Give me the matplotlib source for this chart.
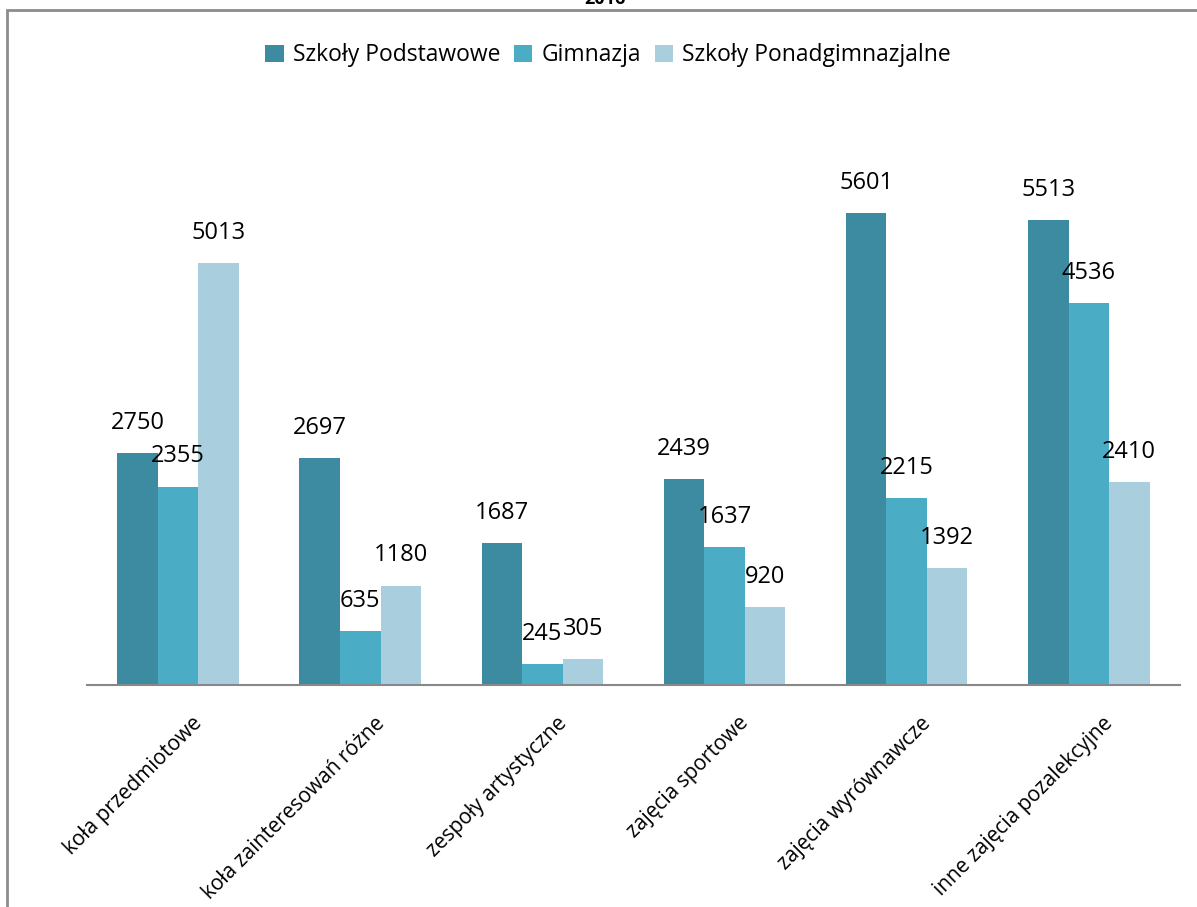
import matplotlib.pyplot as plt
import numpy as np
from matplotlib.patches import Rectangle
import matplotlib.transforms as mtransforms

plt.rcParams['font.family'] = ['Open Sans', 'DejaVu Sans']

categories = ['koła przedmiotowe', 'koła zainteresowań różne', 'zespoły artystyczne',
              'zajęcia sportowe', 'zajęcia wyrównawcze', 'inne zajęcia pozalekcyjne']
podstawowe = [2750, 2697, 1687, 2439, 5601, 5513]
gimnazja = [2355, 635, 245, 1637, 2215, 4536]
ponadgim = [5013, 1180, 305, 920, 1392, 2410]
series_names = ['Szkoły Podstawowe', 'Gimnazja', 'Szkoły Ponadgimnazjalne']
colors = ['#3C8BA1', '#4BACC6', '#A9CFDE']

fig = plt.figure(figsize=(11.97, 9.07), dpi=100)
ax = fig.add_axes([0.0727, 0.2448, 0.913, 0.5898])

x = np.arange(len(categories))
w = 0.2225
for i, (vals, name, c) in enumerate(zip([podstawowe, gimnazja, ponadgim], series_names, colors)):
    bars = ax.bar(x + (i - 1) * w, vals, w, color=c, label=name)
    for b, v in zip(bars, vals):
        ax.annotate(str(v), (b.get_x() + b.get_width() / 2, v), xytext=(0, 13),
                    textcoords='offset points', ha='center', va='bottom', fontsize=17)

ax.set_xlim(-0.5, 5.5)
ax.set_ylim(0, 6349)
for s in ['top', 'right', 'left']:
    ax.spines[s].set_visible(False)
ax.spines['bottom'].set_color('#888888')
ax.spines['bottom'].set_linewidth(1.5)
ax.set_yticks([])
ax.set_xticks(x)
ax.set_xticklabels(categories, rotation=45, ha='right', va='top', rotation_mode='anchor', fontsize=15)
ax.tick_params(axis='x', length=0, pad=20)
offset = mtransforms.ScaledTranslation(10 / 72, 0, fig.dpi_scale_trans)
for lab in ax.get_xticklabels():
    lab.set_transform(lab.get_transform() + offset)

fig.legend(loc='center', bbox_to_anchor=(0.508, 0.939), ncol=3, frameon=False, fontsize=16.5,
           handlelength=0.8, handleheight=0.8, handletextpad=0.4, columnspacing=0.6)

# frame around the chart (cropped at right and bottom)
fig.patches.append(Rectangle((7 / 1197, -0.1), 1.2, 1 - 10 / 907 + 0.1, transform=fig.transFigure,
                             fill=False, edgecolor='#8C8C8C', linewidth=2))
fig.text(0.505, 1.001, '2016', ha='center', va='center', fontsize=13, fontweight='bold')

fig.savefig('out.png', dpi=100)
